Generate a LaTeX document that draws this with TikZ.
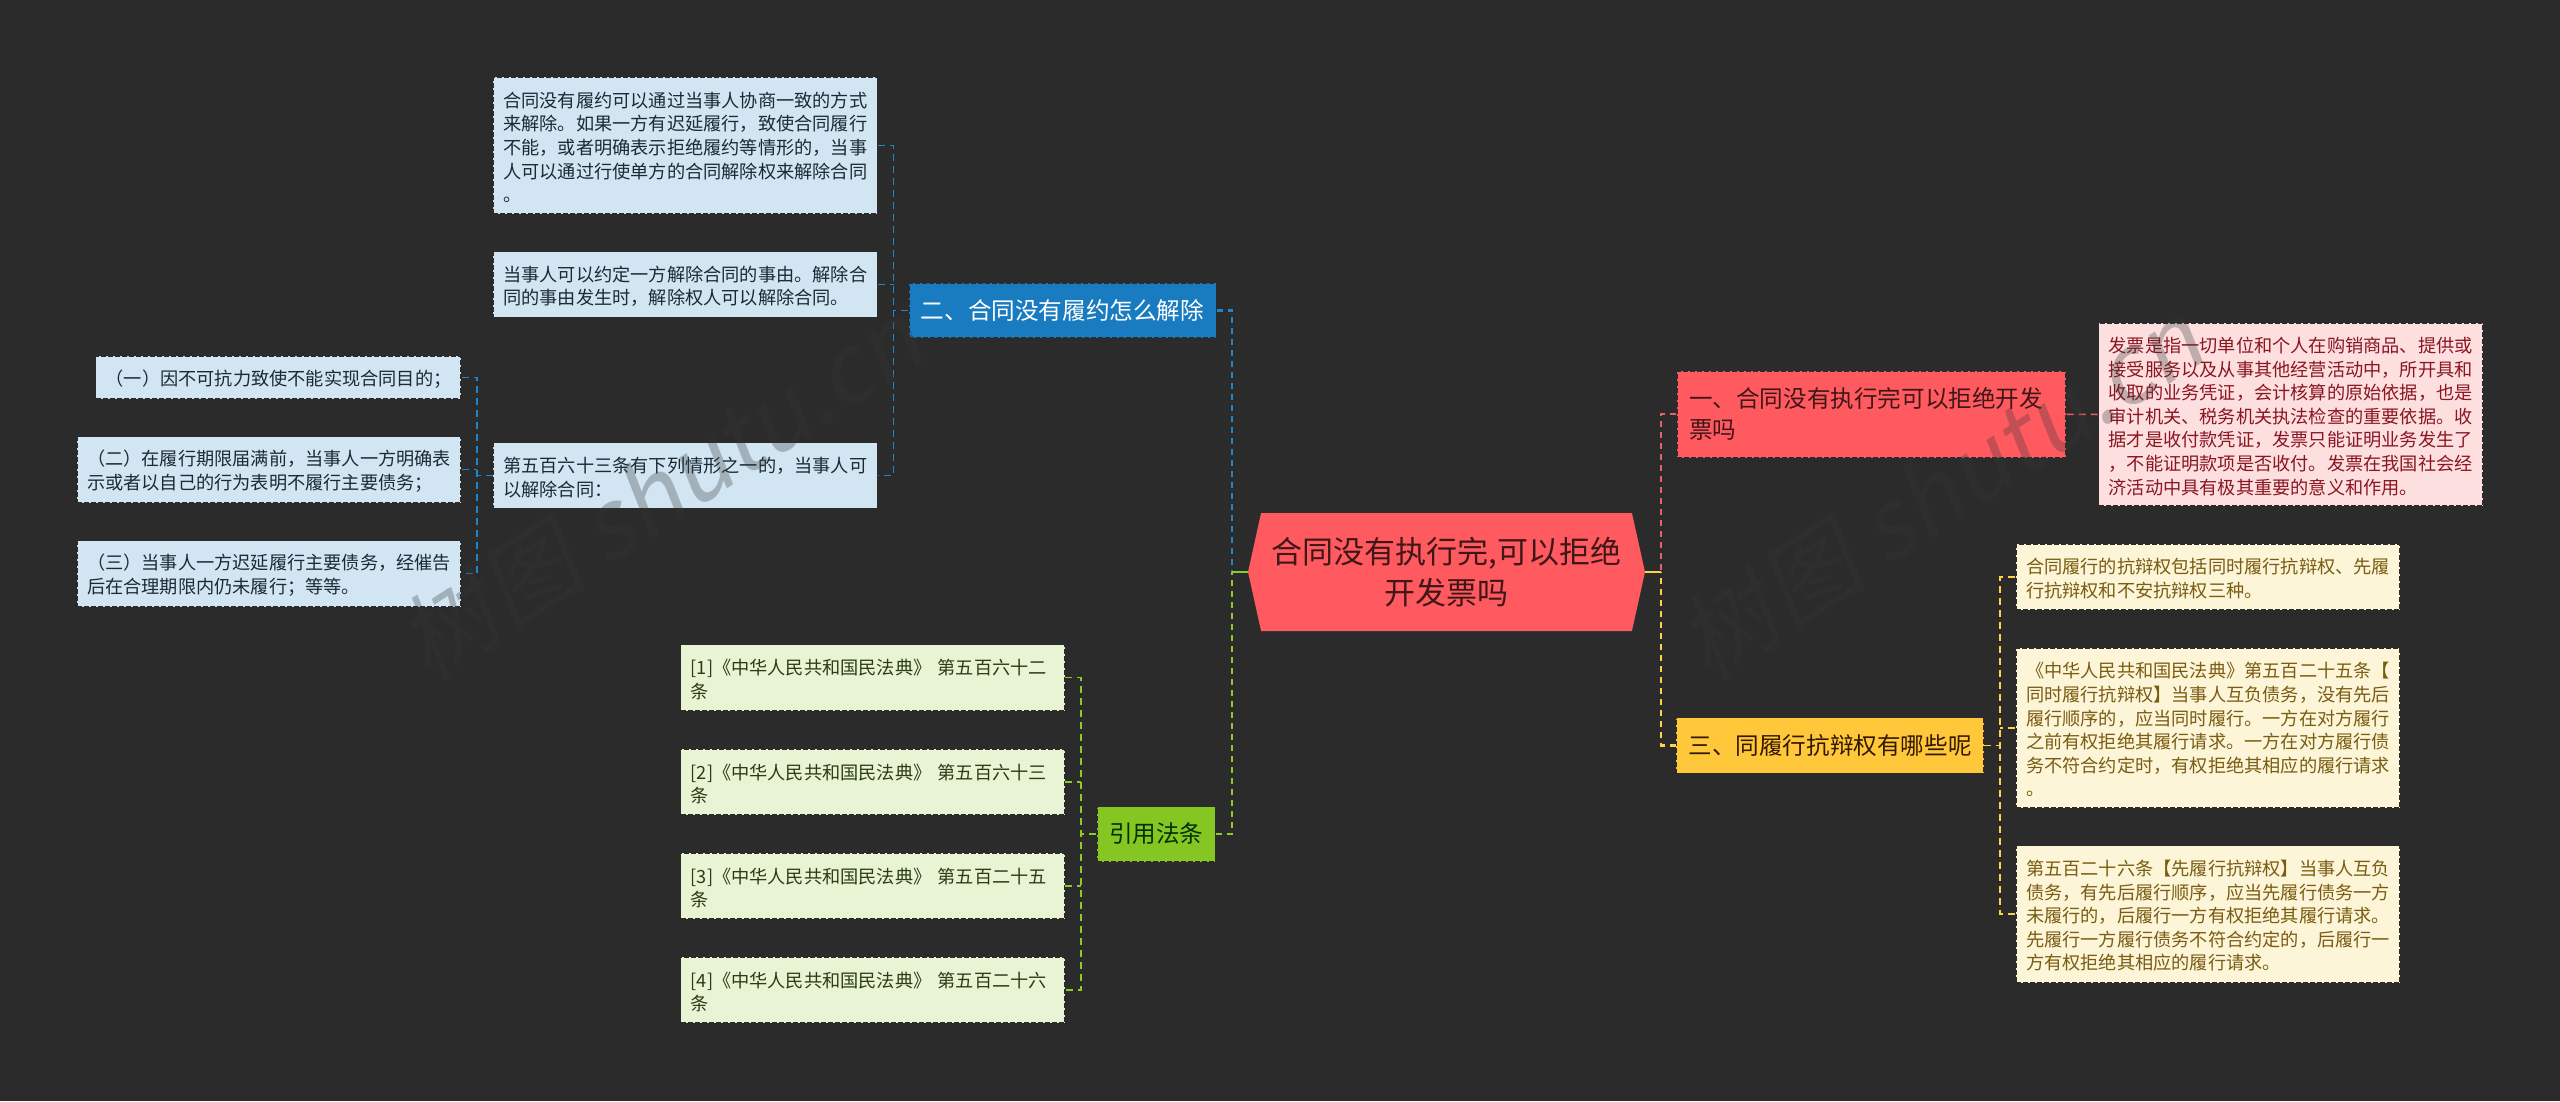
\documentclass[tikz,border=0pt]{standalone}
\usepackage{fontspec}
\setmainfont{Noto Sans CJK SC}
\newfontfamily\wmfont[FakeSlant=0.2]{Noto Sans CJK SC}
\usetikzlibrary{shapes.symbols}
\definecolor{boardbg}{HTML}{2B2B2B}
\definecolor{rootred}{HTML}{FF5A5F}
\definecolor{mainblue}{HTML}{1A7CC0}
\definecolor{mainyellow}{HTML}{FFC83A}
\definecolor{maingreen}{HTML}{85C623}
\definecolor{linkred}{HTML}{E8606C}
\definecolor{linkblue}{HTML}{1F86CC}
\definecolor{linkyellow}{HTML}{FFD04A}
\definecolor{linkgreen}{HTML}{8CCB2A}
\definecolor{fillblue}{HTML}{D1E5F3}
\definecolor{fillpink}{HTML}{FDDFE0}
\definecolor{fillyellow}{HTML}{FDF5D8}
\definecolor{fillgreen}{HTML}{E9F4D5}
\definecolor{inkblue}{HTML}{1C2A34}
\definecolor{inkpink}{HTML}{8A1620}
\definecolor{inkyellow}{HTML}{7A5C12}
\definecolor{inkgreen}{HTML}{2C3D16}
\definecolor{inkmark}{HTML}{383838}
\tikzset{
  rootnode/.style={shape=signal,signal to=west and east,signal pointer angle=155,
    fill=rootred,text=black!75!rootred,inner sep=0pt,minimum width=397pt,minimum height=118pt,
    align=center,font=\fontsize{31}{41.7}\selectfont},
  boxnode/.style={rectangle,draw=boardbg,line width=1.2pt,dash pattern=on 5pt off 2pt,
    inner ysep=0pt,align=left},
  mainnode/.style={boxnode,inner xsep=12pt,font=\fontsize{23.6}{31}\selectfont},
  leafnode/.style={boxnode,inner xsep=10pt,text width=364pt,font=\fontsize{18.2}{23.6}\selectfont,
    execute at begin node={\rule{0pt}{19pt}}},
  leafblue/.style={leafnode,fill=fillblue,text=inkblue},
  leafpink/.style={leafnode,fill=fillpink,text=inkpink},
  leafyellow/.style={leafnode,fill=fillyellow,text=inkyellow},
  leafgreen/.style={leafnode,fill=fillgreen,text=inkgreen},
  linkthick/.style={line width=2.2pt,dash pattern=on 6pt off 5pt},
  linkthin/.style={line width=1.5pt,dash pattern=on 7pt off 5pt},
  watermark/.style={rotate=33,text=inkmark,text opacity=.3,font=\wmfont\fontsize{95}{95}\selectfont}
}
\begin{document}
\begin{tikzpicture}[x=1pt,y=-1pt]
      \fill[boardbg] (0,0) rectangle (2560,1101);
      \useasboundingbox (0,0) rectangle (2560,1101);
      \coordinate (busleft) at (1232,0);
      \coordinate (busright) at (1661,0);
      \coordinate (busblue) at (893.5,0);
      \coordinate (busclause) at (477,0);
      \coordinate (busgreen) at (1081,0);
      \coordinate (busyellow) at (2000,0);
      \draw
        (1446.5,572) node[rootnode] (root){合同没有执行完,可以拒绝\\开发票吗}
        (1062.5,310.5) node[mainnode,fill=mainblue,text=white,minimum width=305pt,minimum height=55pt] (blue){二、合同没有履约怎么解除}
        (1156.2,834) node[mainnode,fill=maingreen,text=black!80!green,minimum width=117.6pt,minimum height=55pt] (green){引用法条}
        (1871.5,414.3) node[mainnode,fill=rootred,text=black!75!rootred,text width=365pt,minimum height=86.7pt] (red){一、合同没有执行完可以拒绝开发\\票吗}
        (1830,745.5) node[mainnode,fill=mainyellow,text=black!80!orange,minimum width=306pt,minimum height=55.5pt] (yellow){三、同履行抗辩权有哪些呢}
        (685.25,145.5) node[leafblue,minimum height=136.4pt] (bluea){合同没有履约可以通过当事人协商一致的方式\\来解除。如果一方有迟延履行，致使合同履行\\不能，或者明确表示拒绝履约等情形的，当事\\人可以通过行使单方的合同解除权来解除合同\\。}
        (685.25,284.5) node[leafblue,minimum height=65.6pt] (blueb){当事人可以约定一方解除合同的事由。解除合\\同的事由发生时，解除权人可以解除合同。}
        (685.25,475.5) node[leafblue,minimum height=65.6pt] (bluec){第五百六十三条有下列情形之一的，当事人可\\以解除合同：}
        (278.3,377.3) node[leafblue,text width=345.4pt,minimum height=42.7pt] (clausea){（一）因不可抗力致使不能实现合同目的；}
        (269,469.7) node[leafblue,minimum height=66pt] (clauseb){（二）在履行期限届满前，当事人一方明确表\\示或者以自己的行为表明不履行主要债务；}
        (269,573.7) node[leafblue,minimum height=66pt] (clausec){（三）当事人一方迟延履行主要债务，经催告\\后在合理期限内仍未履行；等等。}
        (2290.75,414.5) node[leafpink,minimum height=183pt] (pinka){发票是指一切单位和个人在购销商品、提供或\\接受服务以及从事其他经营活动中，所开具和\\收取的业务凭证，会计核算的原始依据，也是\\审计机关、税务机关执法检查的重要依据。收\\据才是收付款凭证，发票只能证明业务发生了\\，不能证明款项是否收付。发票在我国社会经\\济活动中具有极其重要的意义和作用。}
        (2208,577) node[leafyellow,minimum height=66pt] (yellowa){合同履行的抗辩权包括同时履行抗辩权、先履\\行抗辩权和不安抗辩权三种。}
        (2208,728) node[leafyellow,minimum height=160pt] (yellowb){《中华人民共和国民法典》第五百二十五条【\\同时履行抗辩权】当事人互负债务，没有先后\\履行顺序的，应当同时履行。一方在对方履行\\之前有权拒绝其履行请求。一方在对方履行债\\务不符合约定时，有权拒绝其相应的履行请求\\。}
        (2208,914) node[leafyellow,minimum height=137pt] (yellowc){第五百二十六条【先履行抗辩权】当事人互负\\债务，有先后履行顺序，应当先履行债务一方\\未履行的，后履行一方有权拒绝其履行请求。\\先履行一方履行债务不符合约定的，后履行一\\方有权拒绝其相应的履行请求。}
        (872.75,677.5) node[leafgreen,minimum height=66pt] (greena){[1]《中华人民共和国民法典》 第五百六十二\\条}
        (872.75,782) node[leafgreen,minimum height=66pt] (greenb){[2]《中华人民共和国民法典》 第五百六十三\\条}
        (872.75,886) node[leafgreen,minimum height=66pt] (greenc){[3]《中华人民共和国民法典》 第五百二十五\\条}
        (872.75,990) node[leafgreen,minimum height=66pt] (greend){[4]《中华人民共和国民法典》 第五百二十六\\条};
      \begin{scope}[linkthick]
        \draw[linkblue] (blue.east) -- (busleft |- blue.east) -- (busleft |- root.west);
        \draw[linkgreen] (green.east) -- (busleft |- green.east) -- (busleft |- root.west);
        \draw[linkred] (red.west) -- (busright |- red.west) -- (busright |- root.east);
        \draw[linkyellow] (yellow.west) -- (busright |- yellow.west) -- (busright |- root.east);
        \draw[linkgreen,solid] (root.west) -- (busleft |- root.west);
        \draw[linkyellow,solid] (root.east) -- (busright |- root.east);
      \end{scope}
      \begin{scope}[linkthin]
        \draw[linkblue] (bluea.east) -- (busblue |- bluea.east) -- (busblue |- bluec.east) -- (bluec.east);
        \draw[linkblue] (blueb.east) -- (busblue |- blueb.east);
        \draw[linkblue] (blue.west) -- (busblue |- blue.west);
        \draw[linkblue] (clausea.east) -- (busclause |- clausea.east) -- (busclause |- clausec.east) -- (clausec.east);
        \draw[linkblue] (clauseb.east) -- (busclause |- clauseb.east);
        \draw[linkblue] (bluec.west) -- (busclause |- bluec.west);
        \draw[linkred] (red.east) -- (pinka.west);
        \draw[linkyellow] (yellowa.west) -- (busyellow |- yellowa.west) -- (busyellow |- yellowc.west) -- (yellowc.west);
        \draw[linkyellow] (yellowb.west) -- (busyellow |- yellowb.west);
        \draw[linkyellow] (yellow.east) -- (busyellow |- yellow.east);
        \draw[linkgreen] (greena.east) -- (busgreen |- greena.east) -- (busgreen |- greend.east) -- (greend.east);
        \draw[linkgreen] (greenb.east) -- (busgreen |- greenb.east);
        \draw[linkgreen] (greenc.east) -- (busgreen |- greenc.east);
        \draw[linkgreen] (green.west) -- (busgreen |- green.west);
      \end{scope}
      \node[watermark] (wmleft) at (660,490) {树图 shutu.cn};
      \node[watermark] (wmright) at (1940,490) {树图 shutu.cn};
    \end{tikzpicture}
\end{document}
